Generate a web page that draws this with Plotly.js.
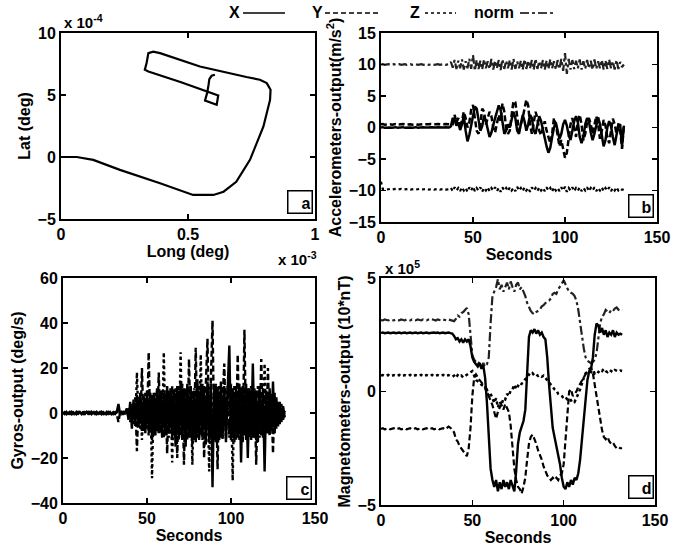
<!DOCTYPE html>
<html>
<head>
<meta charset="utf-8">
<script src="https://cdn.plot.ly/plotly-3.0.1.min.js"></script>
<style>html,body{margin:0;padding:0;background:#fff;}#chart{width:684px;height:549px;}</style>
</head>
<body>
<div id="chart"></div>
<script>
// ---------- (a) trajectory: Long in units of 1e-3 deg, Lat in units of 1e-4 deg ----------
const longE3 = [0, 0.062, 0.127, 0.232, 0.39, 0.495, 0.52, 0.60, 0.64, 0.69, 0.744, 0.797, 0.823, 0.825, 0.81, 0.783, 0.73, 0.547, 0.39, 0.363, 0.344, 0.337, 0.33, 0.344, 0.47, 0.619, 0.613, 0.567, 0.576, 0.581, 0.584, 0.593, 0.606];
const latE4  = [0, 0, -0.23, -1.04, -2.12, -2.93, -3.06, -3.06, -2.8, -2.0, -0.23, 2.46, 4.6, 5.42, 5.96, 6.23, 6.45, 7.3, 8.38, 8.5, 8.38, 7.58, 7.04, 6.9, 6.05, 4.96, 4.21, 4.56, 5.21, 5.83, 6.28, 6.55, 6.63];

// ---------- time (s) shared by (b), (c), (d) ----------
const seconds = [
0,1,2,3,4,5,6,7,8,9, 10,11,12,13,14,15,16,17,18,19, 20,21,22,23,24,25,26,27,28,29,
30,31,32,33,34,35,36,37,38,39, 40,41,42,43,44,45,46,47,48,49, 50,51,52,53,54,55,56,57,58,59,
60,61,62,63,64,65,66,67,68,69, 70,71,72,73,74,75,76,77,78,79, 80,81,82,83,84,85,86,87,88,89,
90,91,92,93,94,95,96,97,98,99, 100,101,102,103,104,105,106,107,108,109, 110,111,112,113,114,115,116,117,118,119,
120,121,122,123,124,125,126,127,128,129, 130,131,132];

// ---------- (b) accelerometers (m/s^2) ----------
const accX = [
0.0,0.05,-0.05,0.0,0.05,0.0,-0.05,0.0,0.05,-0.05,
0.0,0.0,0.05,-0.05,0.0,0.05,0.0,-0.05,0.0,0.05,
-0.05,0.0,0.0,0.05,0.0,-0.05,0.0,0.05,0.0,-0.05,
0.0,0.05,0.0,-0.05,0.0,0.05,0.0,0.0,0.2,1.5,
1.2,0.3,0.8,-0.4,0.5,1.8,-0.5,-2.2,-1.2,0.5,
2.2,3.3,3.0,1.0,-0.5,0.2,1.8,1.0,-0.5,-1.5,
-0.8,0.5,1.5,2.5,3.5,2.8,0.5,-1.0,-0.5,0.5,
0.0,1.5,2.5,1.5,-0.5,-1.0,0.5,2.0,1.0,-0.5,
0.5,2.0,1.5,-0.5,-1.0,0.5,1.8,1.0,-0.5,-1.5,
-3.0,-4.0,-3.2,-1.5,0.0,0.8,-0.5,-1.8,-1.0,0.5,
1.2,0.3,-1.2,-2.0,-0.5,1.0,1.8,0.8,-1.5,-2.5,
-1.5,0.5,1.5,1.0,-0.8,-2.0,-1.0,0.5,1.6,0.5,
-1.5,-3.0,-2.0,0.0,1.0,0.2,-1.5,-2.8,-1.2,0.5,
0.4,-3.0,0.3];
const accY = [
0.5,0.55,0.45,0.5,0.55,0.5,0.45,0.5,0.55,0.45,
0.5,0.5,0.55,0.45,0.5,0.55,0.5,0.45,0.5,0.55,
0.45,0.5,0.5,0.55,0.5,0.45,0.5,0.55,0.5,0.45,
0.5,0.55,0.5,0.45,0.5,0.55,0.5,0.5,0.5,0.5,
2.0,0.8,1.5,0.5,1.0,2.5,1.5,0.0,0.8,2.8,
3.6,1.5,-0.5,-1.0,0.5,3.0,2.5,0.5,1.5,2.5,
1.8,0.0,-0.8,0.5,2.0,1.0,3.8,2.5,0.0,-1.0,
-0.5,2.0,4.2,4.0,1.5,-0.5,0.5,1.5,3.0,4.4,
3.5,0.5,-1.0,0.5,2.5,1.5,-0.5,-1.2,0.0,1.0,
-0.5,-1.5,-2.5,-1.0,1.5,0.5,-1.5,-3.0,-2.0,-3.5,
-4.8,-4.0,-1.5,0.5,1.5,0.0,-1.5,1.0,2.0,0.5,
-2.0,-1.0,0.8,1.5,0.5,-1.0,0.5,1.8,0.5,-1.8,
-0.5,1.2,0.3,-1.5,-2.5,-0.5,1.4,0.5,-1.0,0.2,
-0.5,-3.4,0.4];
const accZ = [
-8.6,-9.8,-9.75,-9.85,-9.8,-9.75,-9.85,-9.8,-9.75,-9.85,
-9.8,-9.75,-9.85,-9.8,-9.8,-9.75,-9.85,-9.8,-9.75,-9.85,
-9.8,-9.75,-9.85,-9.8,-9.8,-9.75,-9.85,-9.8,-9.75,-9.85,
-9.8,-9.75,-9.85,-9.8,-9.75,-9.85,-9.8,-9.8,-9.6,-10.1,
-9.5,-10.0,-9.6,-10.1,-9.5,-10.0,-9.6,-10.2,-9.5,-10.0,
-9.4,-10.1,-9.6,-10.0,-9.5,-10.2,-9.6,-10.0,-9.5,-10.1,
-9.6,-10.0,-9.5,-10.1,-9.6,-10.2,-9.5,-10.0,-9.6,-10.1,
-9.5,-10.0,-9.6,-10.1,-9.4,-10.0,-9.6,-10.1,-9.5,-10.0,
-9.6,-10.2,-9.5,-10.0,-9.6,-10.1,-9.5,-10.0,-9.6,-10.1,
-9.5,-10.0,-9.6,-10.2,-9.5,-10.0,-9.6,-10.1,-9.5,-10.0,
-9.4,-10.2,-9.6,-10.0,-9.5,-10.1,-9.6,-10.0,-9.5,-10.1,
-9.6,-10.0,-9.5,-10.1,-9.6,-10.0,-9.5,-10.1,-9.6,-10.0,
-9.5,-10.1,-9.6,-10.0,-9.5,-10.1,-9.6,-10.0,-9.5,-10.0,
-9.7,-9.9,-9.8];
const accNorm = [
10.0,10.05,9.95,10.0,10.05,9.95,10.0,10.05,9.95,10.0,
10.05,9.95,10.0,10.05,9.95,10.0,10.05,9.95,10.0,10.05,
9.95,10.0,10.05,9.95,10.0,10.05,9.95,10.0,10.05,9.95,
10.0,10.05,9.95,10.0,10.05,9.95,10.0,10.05,10.4,9.5,
10.7,9.3,10.6,9.4,10.8,9.2,10.5,9.4,10.9,9.3,
11.5,9.0,10.7,9.3,10.6,9.2,10.8,9.4,10.5,9.3,
10.9,9.2,10.6,9.4,10.7,9.1,10.8,9.3,10.6,9.4,
10.7,9.2,10.9,9.3,10.5,9.4,10.6,9.2,10.8,9.3,
10.6,9.4,10.7,9.2,10.9,9.3,10.5,9.4,10.7,9.2,
10.6,9.3,10.8,9.4,10.5,9.2,10.7,9.3,10.9,9.0,
11.8,8.5,10.9,9.2,10.7,9.3,10.6,9.4,10.8,9.2,
10.5,9.3,10.7,9.4,10.6,9.2,10.8,9.3,10.5,9.4,
10.7,9.2,10.6,9.3,10.8,9.4,10.5,9.2,10.7,9.3,
10.4,9.6,10.0];

// ---------- (c) gyros (deg/s) ----------
const gyroX = [
0.3,-0.4,0.5,-0.3,0.4,-0.5,0.3,-0.4,0.5,-0.3,
0.4,-0.5,0.3,-0.4,0.5,-0.3,0.4,-0.5,0.3,-0.4,
0.5,-0.3,0.4,-0.5,0.3,-0.4,0.5,-0.3,0.4,-0.5,
0.3,-0.4,0.5,4.0,-0.4,0.5,-0.3,0.4,2,-3,
5,-7,6,-5,8,-6,9,-8,7,-9,
10,-8,9,-12,8,-10,11,-9,10,-11,
9,-10,12,-9,11,-12,10,-15,12,-11,
14,-12,11,-15,13,-11,12,-14,10,-13,
15,-12,13,-11,12,-14,14,-12,13,-33,
12,-13,11,-12,14,-11,12,-13,10,30,
-12,11,-13,12,-11,13,-22,12,-10,13,
-20,11,-12,22,-11,10,-13,12,-10,11,
-26,10,-9,11,-8,14,-9,7,-6,5,
-4,3,-2];
const gyroY = [
-0.4,0.3,-0.5,0.4,-0.3,0.5,-0.4,0.3,-0.5,0.4,
-0.3,0.5,-0.4,0.3,-0.5,0.4,-0.3,0.5,-0.4,0.3,
-0.5,0.4,-0.3,0.5,-0.4,0.3,-0.5,0.4,-0.3,0.5,
-0.4,0.3,-0.5,-4.0,0.3,-0.5,0.4,-0.3,-1,2,
-4,4,-5,7,-17,6,-7,20,-8,9,
-7,27,-9,8,-10,9,-8,18,-9,10,
-11,9,-18,10,-9,12,-10,11,-20,12,
-10,13,-23,11,-12,24,-11,10,-12,29,
-11,12,-10,13,-20,12,33,-13,11,41,
-12,13,-25,12,-11,10,22,-12,11,-10,
13,-11,12,-10,26,-12,11,-13,37,-12,
11,-10,12,-11,10,-23,12,-10,24,-11,
10,-9,20,-10,8,-18,9,-7,5,-5,
4,-3,1];
const gyroZ = [
0.2,-0.3,0.3,-0.2,0.3,-0.3,0.2,-0.3,0.3,-0.2,
0.3,-0.3,0.2,-0.3,0.3,-0.2,0.3,-0.3,0.2,-0.3,
0.3,-0.2,0.3,-0.3,0.2,-0.3,0.3,-0.2,0.3,-0.3,
0.2,-0.3,0.3,1.5,-0.3,0.3,-0.2,0.3,1,-2,
3,-4,5,-6,18,-5,7,-12,8,-7,
9,-10,8,-29,9,-8,10,-9,8,-10,
27,-9,10,-11,9,-22,11,-10,9,-12,
27,-11,10,-12,11,-10,12,-23,11,-12,
10,-11,26,-12,11,-13,12,-26,10,-12,
11,-10,12,-11,10,-12,11,-10,12,-11,
10,-30,11,-12,10,-11,12,-10,11,-12,
10,-11,12,-10,11,-12,10,-11,9,-10,
22,-9,8,-10,9,-8,7,-6,5,-4,
3,-2,1];

// ---------- (d) magnetometers (units of 1e5 x 10 nT) ----------
const magX = [
2.58,2.6,2.57,2.58,2.6,2.57,2.58,2.6,2.57,2.58,
2.6,2.57,2.58,2.6,2.57,2.58,2.6,2.57,2.58,2.6,
2.57,2.58,2.6,2.57,2.58,2.6,2.57,2.58,2.62,2.6,
2.58,2.6,2.57,2.58,2.6,2.57,2.58,2.6,2.57,2.55,
2.45,2.3,2.35,2.2,2.3,2.15,2.3,2.2,2.3,2.0,
1.5,1.3,1.2,1.1,1.25,1.0,1.15,0.6,-0.5,-2.0,
-3.4,-3.9,-4.2,-3.9,-4.4,-4.0,-4.3,-3.9,-4.2,-4.0,
-4.3,-3.9,-4.2,-4.4,-3.5,-2.3,-1.8,-1.5,-1.3,-0.8,
1.0,2.4,2.7,2.6,2.75,2.55,2.7,2.5,2.6,2.4,
2.3,1.5,0.3,-0.8,-1.6,-2.0,-2.4,-2.8,-3.2,-3.8,
-4.2,-4.3,-4.0,-4.2,-3.9,-4.1,-3.8,-3.9,-3.6,-3.0,
-2.2,-1.2,-0.3,0.5,0.9,1.0,1.5,2.5,3.0,2.9,
2.6,2.8,2.5,2.7,2.4,2.6,2.5,2.7,2.4,2.6,
2.5,2.55,2.5];
const magY = [
-1.65,-1.62,-1.67,-1.65,-1.62,-1.67,-1.65,-1.62,-1.67,-1.65,
-1.62,-1.67,-1.65,-1.62,-1.67,-1.65,-1.62,-1.67,-1.65,-1.62,
-1.67,-1.65,-1.62,-1.67,-1.65,-1.62,-1.67,-1.65,-1.62,-1.67,
-1.65,-1.62,-1.67,-1.65,-1.62,-1.67,-1.6,-1.55,-1.6,-1.7,
-1.8,-2.1,-2.2,-2.4,-2.5,-2.6,-2.7,-2.85,-2.5,-1.6,
-0.2,0.6,0.75,0.6,0.5,0.4,0.3,0.2,0.1,-0.2,
-0.4,-0.6,-0.9,-1.2,-0.9,-0.7,-0.6,-0.8,-0.55,-0.7,
-0.9,-1.5,-2.6,-3.4,-3.9,-4.2,-4.3,-4.5,-4.2,-3.8,
-3.0,-2.3,-2.0,-1.9,-2.1,-2.3,-2.6,-2.8,-3.0,-3.3,
-3.5,-3.7,-3.8,-3.9,-3.8,-3.9,-3.8,-3.9,-3.7,-3.6,
-3.2,-2.0,-0.8,0.0,0.1,-0.2,-0.1,0.0,0.2,0.35,
0.5,0.65,0.75,0.9,1.0,1.05,0.8,0.3,-0.3,-0.9,
-1.3,-1.7,-2.0,-2.1,-2.0,-2.2,-2.3,-2.25,-2.4,-2.5,
-2.45,-2.5,-2.5];
const magZ = [
0.7,0.72,0.68,0.7,0.73,0.67,0.7,0.72,0.68,0.7,
0.73,0.67,0.7,0.72,0.68,0.7,0.73,0.67,0.7,0.72,
0.68,0.7,0.73,0.67,0.7,0.72,0.68,0.7,0.73,0.67,
0.7,0.72,0.68,0.7,0.73,0.67,0.7,0.72,0.68,0.65,
0.7,0.6,0.72,0.65,0.7,0.62,0.68,0.75,0.8,0.85,
0.9,0.7,0.5,0.45,0.4,0.3,0.25,0.15,0.0,-0.2,
-0.1,-0.35,-0.5,-0.3,-0.7,-0.45,-0.6,-0.3,-0.35,-0.1,
-0.2,0.05,0.1,0.3,0.1,0.25,0.2,0.35,0.4,0.55,
0.6,0.75,0.7,0.8,0.7,0.75,0.68,0.72,0.65,0.7,
0.6,0.5,0.35,0.3,0.2,0.1,0.05,-0.1,-0.15,-0.2,
-0.3,-0.25,-0.35,-0.3,-0.4,-0.35,-0.45,-0.3,-0.1,0.1,
0.4,0.6,0.8,0.85,0.9,0.85,0.95,0.8,0.9,0.85,
0.95,0.9,1.0,0.9,0.85,0.95,0.9,0.85,0.95,0.9,
0.88,0.92,0.9];
const magNorm = [
3.15,3.13,3.17,3.15,3.13,3.17,3.15,3.13,3.17,3.15,
3.13,3.17,3.15,3.13,3.17,3.15,3.13,3.17,3.15,3.13,
3.17,3.15,3.13,3.17,3.15,3.13,3.17,3.2,3.18,3.15,
3.13,3.17,3.15,3.13,3.17,3.15,3.13,3.17,3.15,3.15,
3.1,3.2,3.35,3.3,3.45,3.5,3.6,3.68,3.4,2.6,
1.6,1.4,1.3,1.2,1.3,1.1,1.25,1.1,1.2,1.5,
3.0,4.2,4.4,4.6,4.95,4.5,4.7,4.4,4.6,4.8,
4.5,4.85,4.6,4.4,4.7,4.8,4.5,4.6,4.4,4.2,
3.9,3.7,3.55,3.45,3.4,3.5,3.55,3.6,3.75,3.8,
3.9,3.95,4.0,4.1,4.3,4.35,4.3,4.5,4.6,4.75,
4.9,4.7,4.55,4.4,4.35,4.3,4.2,4.0,3.6,3.0,
2.4,1.9,1.5,1.35,1.3,1.25,1.3,1.4,1.7,2.4,
3.0,3.3,3.4,3.6,3.5,3.45,3.6,3.55,3.65,3.7,
3.6,3.65,3.6];

// ---------- tick labels ----------
const tickA_x = [0, 0.5, 1], tickA_xt = ['0', '0.5', '1'];
const tickA_y = [-5, 0, 5, 10];
const tickB_y = [-15, -10, -5, 0, 5, 10, 15];
const tickC_y = [-40, -20, 0, 20, 40, 60];
const tickD_y = [-5, 0, 5];
const tickT = [0, 50, 100, 150];

// ---------- helpers ----------
const W = 684, H = 549;
const px = x => x / W;
const py = y => 1 - y / H;
const FONT = 'Liberation Sans, Arial, sans-serif';
const bold = (s) => ({family: FONT, size: s, color: 'black', weight: 'bold'});
const DASH = '6px,3px';

function axis(domain, anchor, range, tickvals, ticktext, title, extra) {
  const a = {
    domain: domain, anchor: anchor, range: range,
    tickmode: 'array', tickvals: tickvals,
    showline: true, linewidth: 2, linecolor: 'black', mirror: 'ticks',
    ticks: 'inside', ticklen: 5, tickwidth: 1.5, tickcolor: 'black',
    showgrid: false, zeroline: false,
    tickfont: bold(16),
    title: {text: title, font: bold(16), standoff: 3}
  };
  if (ticktext) a.ticktext = ticktext;
  return Object.assign(a, extra || {});
}

function line(x, y, xa, ya, dash, w, c) {
  return {x: x, y: y, xaxis: xa, yaxis: ya, type: 'scatter', mode: 'lines',
          line: {color: c || 'black', width: w || 1.5, dash: dash}, hoverinfo: 'skip', showlegend: false};
}

const data = [
  line(longE3, latE4, 'x', 'y', 'solid', 2.2),
  line(seconds, accNorm, 'x2', 'y2', 'dashdot', 2.2, '#222'),
  line(seconds, accZ, 'x2', 'y2', 'dot', 2.2),
  line(seconds, accY, 'x2', 'y2', DASH, 2.5),
  line(seconds, accX, 'x2', 'y2', 'solid', 2.5),
  line(seconds, gyroZ, 'x3', 'y3', 'dot', 2.4),
  line(seconds, gyroY, 'x3', 'y3', DASH, 2.4),
  line(seconds, gyroX, 'x3', 'y3', 'solid', 2.4),
  line(seconds, magNorm, 'x4', 'y4', 'dashdot', 2.2, '#222'),
  line(seconds, magZ, 'x4', 'y4', 'dot', 2.5),
  line(seconds, magY, 'x4', 'y4', DASH, 2.2),
  line(seconds, magX, 'x4', 'y4', 'solid', 2.4)
];

const dA = {x: [px(61), px(315)], y: [py(219), py(33)]};
const dB = {x: [px(381), px(657)], y: [py(222), py(33)]};
const dC = {x: [px(63), px(315)], y: [py(503), py(278)]};
const dD = {x: [px(381), px(655)], y: [py(505), py(278)]};

function boxLabel(t, cx, cy) {
  return {text: '<b>' + t + '</b>', xref: 'paper', yref: 'paper', x: px(cx), y: py(cy),
          xanchor: 'center', yanchor: 'middle', showarrow: false, font: bold(16),
          bordercolor: 'black', borderwidth: 1.5, borderpad: 1, bgcolor: 'white',
          width: 21, height: 19, align: 'right', valign: 'bottom'};
}
function txt(t, x, y, xanchor, size) {
  return {text: t, xref: 'paper', yref: 'paper', x: px(x), y: py(y), xanchor: xanchor || 'left',
          yanchor: 'middle', showarrow: false, font: bold(size || 16)};
}
function legLine(x0, x1, dash) {
  return {type: 'line', xref: 'paper', yref: 'paper', x0: px(x0), x1: px(x1), y0: py(13), y1: py(13),
          line: {color: 'black', width: 1.5, dash: dash}};
}

const layout = {
  width: W, height: H, autosize: false,
  margin: {l: 0, r: 0, t: 0, b: 0},
  paper_bgcolor: 'white', plot_bgcolor: 'white',
  showlegend: false,
  xaxis: axis(dA.x, 'y', [0, 1], tickA_x, tickA_xt, 'Long (deg)'),
  yaxis: axis(dA.y, 'x', [-5, 10], tickA_y, null, 'Lat (deg)'),
  xaxis2: axis(dB.x, 'y2', [0, 150], tickT, null, 'Seconds'),
  yaxis2: axis(dB.y, 'x2', [-15, 15], tickB_y, null, 'Accelerometers-output(m/s<sup>2</sup>)'),
  xaxis3: axis(dC.x, 'y3', [0, 150], tickT, null, 'Seconds'),
  yaxis3: axis(dC.y, 'x3', [-40, 60], tickC_y, null, 'Gyros-output (deg/s)'),
  xaxis4: axis(dD.x, 'y4', [0, 150], tickT, null, 'Seconds'),
  yaxis4: axis(dD.y, 'x4', [-5, 5], tickD_y, null, 'Magnetometers-output (10*nT)'),
  annotations: [
    boxLabel('a', 300, 202),
    boxLabel('b', 641, 206),
    boxLabel('c', 299, 488),
    boxLabel('d', 641, 487),
    txt('x 10<sup>-4</sup>', 62, 22, 'left', 15),
    txt('x 10<sup>-3</sup>', 276, 258, 'left', 15),
    txt('x 10<sup>5</sup>', 383, 267, 'left', 15),
    txt('X', 234, 13, 'center'),
    txt('Y', 317, 13, 'center'),
    txt('Z', 415, 13, 'center'),
    txt('norm', 494, 13, 'center')
  ],
  shapes: [
    legLine(243, 285, 'solid'),
    legLine(325, 378, '5px,3px'),
    legLine(425, 456, 'dot'),
    legLine(520, 556, 'dashdot')
  ]
};

Plotly.newPlot('chart', data, layout, {staticPlot: true, displayModeBar: false});
</script>
</body>
</html>
